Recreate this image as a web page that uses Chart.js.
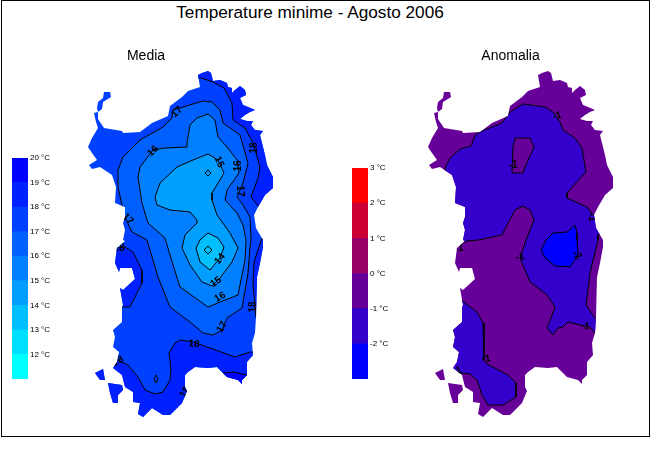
<!DOCTYPE html>
<html><head><meta charset="utf-8">
<script src="https://cdn.jsdelivr.net/npm/chart.js@4"></script>
<style>
html,body{margin:0;padding:0;background:#fff;width:650px;height:450px;overflow:hidden}
canvas{position:absolute}
#frame{position:absolute;left:1px;top:0;width:647px;height:435px;border:1px solid #000;box-sizing:content-box}
#title{position:absolute;left:0;top:1px;width:620px;text-align:center;font:17.2px/22px "Liberation Sans",Arial,sans-serif;color:#000}
</style></head><body>
<div id="frame"></div>
<div id="title">Temperature minime - Agosto 2006</div>
<canvas id="c1" width="292" height="436" style="left:0;top:0"></canvas>
<canvas id="c2" width="277" height="436" style="left:372px;top:0"></canvas>
<canvas id="b1" width="55" height="241" style="left:12px;top:148px"></canvas>
<canvas id="b2" width="55" height="231" style="left:352px;top:158px"></canvas>
<script>
// ---- colour bar data
const mediaLevels=[11,12,13,14,15,16,17,18,19,20];
const mediaColors=['#00ffff','#00dfff','#00bfff','#009fff','#0080ff','#0060ff','#0040ff','#0020ff','#0000ff'];
const anomLevels=[-3,-2,-1,0,1,2,3];
const anomColors=['#0000ff','#3300cc','#660099','#990066','#cc0033','#ff0000'];
// ---- coast (map units)
const coastMain=[[198,75],[202,73],[208,71],[211,73],[213,81],[220,80],[227,83],[228,87],[232,88],[232,93],[235,90],[240,86],[245,90],[246,95],[240,98],[243,105],[248,107],[255,110],[250,112],[245,115],[240,119],[247,121],[253,121],[251,125],[255,130],[263,131],[260,135],[262,143],[265,155],[267,165],[273,177],[273,188],[265,195],[258,207],[254,215],[256,228],[263,240],[263,247],[260,263],[257,277],[256,317],[255,333],[252,343],[253,355],[247,362],[247,375],[242,380],[242,384],[238,380],[227,377],[217,367],[208,368],[195,367],[188,372],[185,375],[185,387],[187,391],[182,403],[170,415],[163,415],[152,408],[143,417],[138,414],[140,403],[133,402],[133,392],[125,387],[122,375],[113,368],[117,362],[119,352],[113,347],[115,337],[113,330],[122,322],[122,308],[123,305],[120,288],[123,290],[135,279],[132,268],[120,268],[119,272],[115,263],[117,248],[125,241],[123,240],[125,230],[123,223],[125,217],[125,207],[115,203],[116,187],[112,175],[100,167],[92,169],[89,165],[97,160],[92,153],[88,147],[92,138],[98,128],[96,122],[94,113],[98,112],[97,108],[98,102],[103,98],[104,92],[110,92],[111,97],[103,102],[102,109],[98,112],[98,119],[104,128],[122,131],[123,133],[140,132],[152,123],[168,116],[170,106],[182,97],[188,91],[200,87]];
const coastPietro=[[95,373],[103,369],[105,380],[100,380]];
const coastAntioco=[[108,383],[122,385],[123,390],[118,395],[118,403],[113,403],[110,393]];
// ---- Media contours
const mapExtent=[[60,60],[300,60],[300,430],[60,430]];
const media18NE=[[195,78],[201,78],[213,82],[224,88],[232,103],[233,120],[245,128],[253,143],[260,167],[258,178],[251,197],[258,206],[290,206],[290,60],[195,60]];
const media18E=[[262,238],[254,262],[253,283],[256,318],[275,318],[275,238]];
const media18W=[[115,248],[125,247],[133,252],[142,270],[142,283],[135,297],[130,307],[122,307],[100,307],[100,248]];
const media18S=[[118,360],[128,365],[138,377],[145,390],[155,394],[163,392],[170,380],[171,370],[169,353],[175,343],[180,340],[193,342],[213,349],[235,357],[250,352],[265,352],[265,430],[85,430],[85,360]];
const media19=[[223,373],[233,372],[247,375],[252,390],[223,390]];
const media17=[[125,217],[122,205],[118,187],[118,170],[123,157],[140,140],[163,127],[172,118],[173,110],[183,107],[203,101],[212,102],[220,110],[223,123],[240,135],[248,163],[243,183],[237,197],[243,205],[250,217],[251,240],[250,247],[248,273],[242,308],[227,318],[222,330],[213,335],[203,333],[190,322],[170,307],[158,277],[147,240],[132,232]];
const media16=[[208,114],[215,120],[218,137],[227,147],[237,160],[239,173],[227,190],[225,200],[237,213],[243,225],[246,240],[245,260],[241,280],[238,295],[225,300],[208,307],[180,287],[170,255],[165,238],[148,223],[142,203],[138,177],[140,167],[153,150],[165,148],[187,147],[187,143],[190,125],[197,118]];
const media15=[[208,154],[218,160],[224,173],[212,193],[212,200],[217,215],[230,233],[238,248],[232,262],[220,278],[212,286],[202,282],[190,265],[182,248],[185,235],[197,223],[197,220],[190,212],[170,210],[157,205],[155,197],[160,183],[177,167],[193,160]];
const media14=[[208,233],[218,238],[224,247],[220,258],[210,270],[200,262],[196,248],[200,240]];
const mediaDiamond1=[[208,170],[211,173],[208,176],[205,173],[208,170]];
const mediaDiamond2=[[208,246],[212,250],[208,254],[204,250],[208,246]];
const mediaDiamond3=[[156,375],[158,379],[156,383],[154,379],[156,375]];
const mediaContourLabels=[['17',177,112,-45],['16',153,151,-45],['15',219,162,65],['16',238,166,-90],['18',254,148,-90],['17',240,191,90],['17',128,219,45],['14',220,259,-50],['15',216,282,-35],['16',220,297,-30],['17',222,327,-60],['18',194,344,5],['18',253,307,-90],['18',119,248,0],['18',118,361,-30],['18',185,392,-60]];
// ---- Anomalia contours
const anomMinus1=[[105,168],[110,158],[120,149],[131,146],[135,135],[142,131],[162,123],[170,112],[183,104],[205,107],[213,112],[220,122],[223,130],[235,138],[242,148],[246,172],[227,193],[227,198],[247,207],[253,215],[275,225],[258,235],[258,240],[250,273],[246,305],[255,318],[265,318],[265,333],[255,333],[250,327],[245,326],[228,322],[223,327],[218,328],[213,335],[207,328],[215,307],[207,295],[190,282],[180,258],[186,240],[194,220],[190,210],[183,206],[175,210],[168,223],[162,235],[138,240],[127,241],[115,247],[100,247],[100,190],[105,172]];
const anomHole=[[175,138],[190,138],[194,147],[185,167],[183,173],[172,173],[173,147]];
const anomSW=[[120,299],[137,312],[143,323],[144,360],[147,364],[168,375],[176,383],[176,397],[163,405],[148,405],[142,395],[137,380],[130,374],[118,373],[112,369],[100,350],[105,299]];
const anomMinus2=[[206,240],[213,233],[227,232],[235,225],[237,233],[237,240],[238,255],[230,267],[215,266],[205,258],[201,250]];
const anomContourLabels=[['-1',217,116,-15],['-1',173,165,0],['-1',180,257,-10],['-2',237,255,45],['-1',245,326,10],['-1',146,359,-10],['-1',117,371,-20],['-1',119,248,0],['-1',252,217,90]];

const toPts=a=>a.map(p=>({x:p[0],y:p[1]}));
const closed=a=>toPts(a.concat([a[0]]));
const coastParts=[coastMain,coastPietro,coastAntioco];

const coastClip={id:'coastClip',
 beforeDatasetsDraw(ch){const {ctx,scales:{x,y}}=ch;ctx.save();ctx.beginPath();
  coastParts.forEach(part=>{part.forEach((p,i)=>{const X=x.getPixelForValue(p[0]),Y=y.getPixelForValue(p[1]);i?ctx.lineTo(X,Y):ctx.moveTo(X,Y);});ctx.closePath();});
  ctx.clip();},
 afterDatasetsDraw(ch,args,opts){const {ctx,scales:{x,y}}=ch;
  (opts.items||[]).forEach(l=>{ctx.save();ctx.translate(x.getPixelForValue(l[1]),y.getPixelForValue(l[2]));ctx.rotate(l[3]*Math.PI/180);
   ctx.font='bold 10px "Liberation Sans",Arial,sans-serif';ctx.fillStyle='#000';ctx.textAlign='center';ctx.textBaseline='middle';ctx.fillText(l[0],0,0);ctx.restore();});
  ctx.restore();}};

function mapChart(id,title,xmin,xmax,layers,labels){
 const n=layers.length;
 new Chart(document.getElementById(id),{type:'scatter',
  data:{datasets:layers.map((l,i)=>({data:l.pts,showLine:true,fill:l.fill?'shape':false,backgroundColor:l.fill||'transparent',
    borderColor:l.line===false?'transparent':'#000',borderWidth:l.line===false?0:1,pointRadius:0,tension:0,order:n-i}))},
  options:{responsive:false,animation:false,devicePixelRatio:1,events:[],
   layout:{padding:0},
   scales:{x:{type:'linear',display:false,min:xmin,max:xmax},y:{type:'linear',display:false,min:63,max:436,reverse:true}},
   plugins:{legend:{display:false},tooltip:{enabled:false},
    title:{display:true,text:title,color:'#000',padding:{top:49,bottom:0},font:{family:'"Liberation Sans",Arial,sans-serif',size:14,weight:'normal',lineHeight:1}},
    coastClip:{items:labels}}},
  plugins:[coastClip]});
}
mapChart('c1','Media',0,292,[
 {pts:closed(mapExtent),fill:'#0040ff',line:false},
 {pts:closed(media18NE),fill:'#0020ff'},
 {pts:closed(media18E),fill:'#0020ff'},
 {pts:closed(media18W),fill:'#0020ff'},
 {pts:closed(media18S),fill:'#0020ff'},
 {pts:closed(media19),fill:'#0000ff'},
 {pts:closed(media17),fill:'#0060ff'},
 {pts:closed(media16),fill:'#0080ff'},
 {pts:closed(media15),fill:'#009fff'},
 {pts:closed(media14),fill:'#00bfff'},
 {pts:toPts(mediaDiamond1)},{pts:toPts(mediaDiamond2)},{pts:toPts(mediaDiamond3)}
],mediaContourLabels);
mapChart('c2','Anomalia',32,309,[
 {pts:closed(mapExtent),fill:'#660099',line:false},
 {pts:closed(anomMinus1),fill:'#3300cc'},
 {pts:closed(anomHole),fill:'#660099'},
 {pts:closed(anomSW),fill:'#3300cc'},
 {pts:closed(anomMinus2),fill:'#0000ff'}
],anomContourLabels);

function barChart(id,levels,colors){
 const lo=levels[0],hi=levels[levels.length-1];
 new Chart(document.getElementById(id),{type:'bar',
  data:{labels:[''],datasets:colors.map((c,i)=>({data:[[levels[i],levels[i+1]]],backgroundColor:c,barPercentage:1,categoryPercentage:1,grouped:false}))},
  options:{responsive:false,animation:false,devicePixelRatio:1,events:[],
   layout:{padding:{top:10,bottom:10}},
   scales:{x:{display:false},
    y:{position:'right',min:lo,max:hi,border:{display:false},grid:{display:false,drawTicks:false},
     afterFit(s){s.width=39;},
     ticks:{stepSize:1,autoSkip:false,padding:2,color:'#000',maxRotation:0,font:{family:'"Liberation Sans",Arial,sans-serif',size:8},
      callback:v=>v===lo?null:v+' °C'}}},
   plugins:{legend:{display:false},tooltip:{enabled:false}}}});
}
barChart('b1',mediaLevels,mediaColors);
barChart('b2',anomLevels,anomColors);
</script></body></html>
